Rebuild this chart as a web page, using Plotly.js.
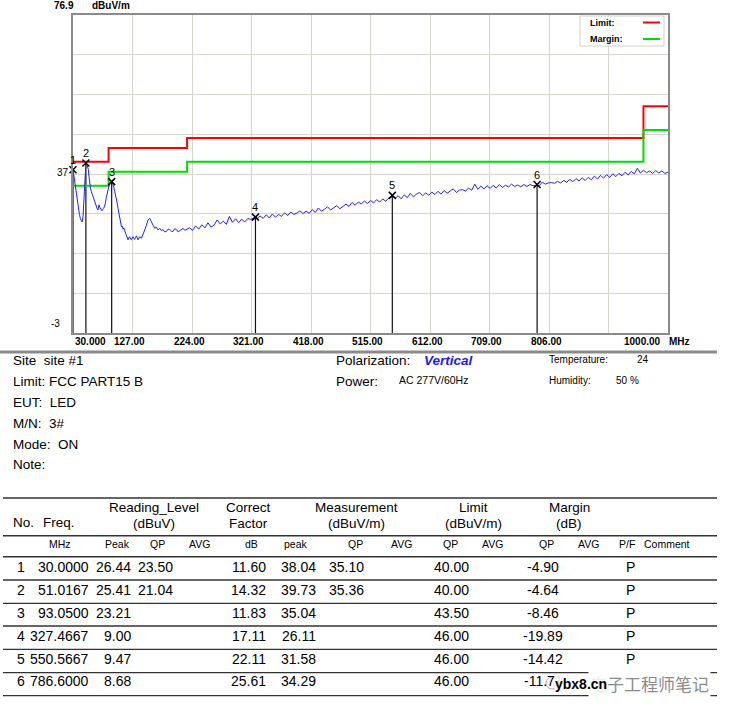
<!DOCTYPE html>
<html><head><meta charset="utf-8">
<script src="https://cdn.plot.ly/plotly-3.0.1.min.js"></script>
<style>html,body{margin:0;padding:0;background:#fff}#chart{width:732px;height:715px}</style>
</head><body><div id="chart"></div>
<script>
// ---- spectrum data ----
const freqMHz = [30, 31.5, 32.8, 34, 35.5, 37.5, 39.3, 40.5, 42, 43.5,
 44.7, 45.5, 46.3, 47.5, 48.6, 49.7, 50.7, 51.0167, 52.5, 54,
 55, 56, 57.2, 58.5, 60, 61.3, 62.6, 64, 65.4, 66.8,
 68.2, 69.5, 70.8, 72.4, 73.5, 74.7, 76, 77.3, 78.6, 80,
 81.4, 82.8, 84.2, 85.5, 87, 88.7, 90, 91.5, 93.05, 94.2,
 95.3, 96.6, 98, 99.4, 100.8, 102, 103.4, 104.8, 106.2, 107.6,
 109, 110.2, 111.5, 112.9, 114.3, 115.6, 117, 118.4, 119.7, 121,
 122.5, 123.9, 125.3, 126.6, 127.9, 129.2, 130.6, 132, 133.4, 136,
 138.8, 141.5, 144.2, 147, 149.7, 152.3, 155, 157.9, 160.5, 163.2,
 166, 168.6, 171.4, 174.2, 176.8, 179.5, 182.3, 185, 187.7, 190.4,
 193, 195.8, 198.6, 201.3, 204, 206.7, 209.4, 212.2, 215,
 220, 225, 230, 235, 240, 245, 250, 255, 260, 265,
 270, 275, 280, 285, 290, 295, 300, 305, 310, 315,
 320, 325, 327.4667, 330, 335, 340, 345, 350, 355, 360, 365,
 370, 375, 380, 385, 390, 395, 400, 405, 410, 415,
 420, 425, 430, 435, 440, 445, 450, 455, 460, 465,
 470, 475, 480, 485, 490, 495, 500, 505, 510, 515,
 520, 525, 530, 535, 540, 545, 550, 550.5667, 555, 560, 565,
 570, 575, 580, 585, 590, 595, 600, 605, 610, 615,
 620, 625, 630, 635, 640, 645, 650, 655, 660, 665,
 670, 675, 680, 685, 690, 695, 700, 705, 710, 715,
 720, 725, 730, 735, 740, 745, 750, 755, 760, 765,
 770, 775, 780, 785, 786.6, 790, 795, 800, 805, 810, 815,
 820, 825, 830, 835, 840, 845, 850, 855, 860, 865,
 870, 875, 880, 885, 890, 895, 900, 905, 910, 915,
 920, 925, 930, 935, 940, 945, 950, 955, 960, 965,
 970, 975, 980, 985, 990, 995, 1000];
const levelDb = [38.04, 36.5, 34.6, 33, 31.2, 29.5, 27.5, 26.8, 25.8, 25.3,
 24.9, 25.4, 26.2, 29.5, 32.9, 36.8, 39.2, 39.73, 39.3, 38.6,
 38.1, 36.4, 34.6, 33.4, 32.5, 31.9, 31.3, 30.4, 30, 29.5,
 28.8, 28.2, 27.9, 29.2, 28.6, 28.3, 27.9, 27.7, 28.1, 28.3,
 28.9, 29.6, 31, 32.1, 33.2, 34.0, 34.3, 34.8, 35.04, 34.7,
 34.3, 33.6, 32.5, 31.6, 30.8, 29.7, 28.3, 27.1, 25.8, 24.6,
 23.7, 23.9, 23.1, 23.4, 22.5, 22.1, 21.6, 21.1, 20.4, 20.9,
 21.2, 20.6, 20.4, 20.9, 21.2, 20.7, 20.5, 21.0, 21.4, 20.4,
 21.2, 20.8, 22.1, 22.9, 24.1, 25.4, 25.8, 24.7, 24.1, 23.3,
 23.6, 22.9, 23.3, 22.7, 23.0, 22.4, 22.5, 23.1, 23.0, 22.6,
 22.5, 23.2, 23.0, 22.4, 22.7, 23.1, 23.3, 22.8, 23.0,
 23.4, 22.8, 23.9, 23.1, 24.2, 23.4, 24.7, 23.6, 24.1, 25.4,
 24.4, 25.1, 24.3, 26.3, 24.8, 25.7, 24.7, 25.6, 24.9, 25.8,
 25.5, 26.0, 26.11, 25.7, 26.4, 25.8, 26.7, 25.9, 26.9, 26.1, 26.8,
 26.3, 27.2, 26.5, 27.4, 26.8, 27.1, 27.7, 27.0, 27.6, 27.1,
 28.0, 27.3, 28.4, 27.6, 28.1, 28.7, 27.9, 28.5, 29.0, 28.2,
 28.9, 29.4, 28.8, 29.8, 29.1, 29.9, 29.4, 30.2, 29.5, 30.3,
 29.7, 30.5, 29.9, 30.7, 30.1, 31.0, 31.2, 31.58, 30.8, 31.5, 30.7,
 31.7, 31.0, 32.1, 31.2, 31.9, 32.3, 31.5, 32.2, 31.6, 32.4,
 31.8, 32.6, 31.9, 32.8, 32.1, 32.7, 33.2, 32.3, 32.9, 33.0,
 32.7, 33.4, 32.9, 34.4, 33.1, 33.9, 33.2, 34.0, 33.3, 34.1,
 33.4, 34.3, 33.6, 34.1, 33.7, 34.4, 33.8, 34.2, 33.7, 34.3,
 33.8, 34.3, 34.0, 34.1, 34.29, 34.0, 34.9, 34.4, 34.7, 34.8, 34.6,
 35.1, 34.7, 35.3, 34.9, 35.6, 35.0, 35.8, 35.2, 36.0, 35.3,
 36.1, 35.5, 36.4, 35.7, 36.6, 35.9, 36.8, 36.1, 37.0, 36.3,
 37.1, 36.5, 37.4, 36.7, 37.6, 37.0, 38.4, 37.2, 37.9, 37.3,
 37.7, 37.1, 37.8, 37.2, 37.7, 37.1, 37.4];

// limit and margin lines (step)
const limitFreq   = [30, 88, 216, 960, 1000];
const limitLevel  = [40, 43.5, 46, 54, 54];
const marginLevel = [34, 37.5, 40, 48, 48];

// markers / table
const markerNo   = ['1', '2', '3', '4', '5', '6'];
const markerFreq = [30.0000, 51.0167, 93.0500, 327.4667, 550.5667, 786.6000];
const readPeak   = ['26.44', '25.41', '23.21', '9.00', '9.47', '8.68'];
const readQP     = ['23.50', '21.04', '', '', '', ''];
const corrFactor = ['11.60', '14.32', '11.83', '17.11', '22.11', '25.61'];
const measPeak   = [38.04, 39.73, 35.04, 26.11, 31.58, 34.29];
const measQP     = ['35.10', '35.36', '', '', '', ''];
const limitQP    = ['40.00', '40.00', '43.50', '46.00', '46.00', '46.00'];
const marginQP   = ['-4.90', '-4.64', '-8.46', '-19.89', '-14.42', '-11.71'];
const passFail   = ['P', 'P', 'P', 'P', 'P', 'P'];

// axes
const xGrid = [30, 127, 224, 321, 418, 515, 612, 709, 806, 903, 1000];
const xTickVals = [30, 127, 224, 321, 418, 515, 612, 709, 806, 1000];
const xTickText = ['30.000', '127.00', '224.00', '321.00', '418.00', '515.00', '612.00', '709.00', '806.00', '1000.00'];
const yGrid = [-3, 6.9875, 16.975, 26.9625, 36.95, 46.9375, 56.925, 66.9125, 76.9];
const yMin = -3, yMax = 76.9;

// ---- layout helpers (pixel -> paper) ----
const L = 73, R = 668, T = 15, B = 333;
const px = x => (x - L) / (R - L);
const py = y => (B - y) / (B - T);
const FONT = 'Liberation Sans, Arial, sans-serif';
const ann = [];
function txt(x, y, text, size, o) {
  o = o || {};
  ann.push({xref: 'paper', yref: 'paper', x: px(x), y: py(y), text: text, showarrow: false,
    xanchor: o.anchor || 'left', yanchor: 'middle',
    font: {family: o.family || FONT, size: size, color: o.color || '#000', weight: o.weight || 'normal', style: o.style || 'normal'},
    bgcolor: o.bg, borderpad: o.pad || 0});
}
const shapes = [];
function hline(x0, x1, y, color, w) {
  shapes.push({type: 'line', xref: 'paper', yref: 'paper', x0: px(x0), x1: px(x1), y0: py(y), y1: py(y),
    line: {color: color, width: w}, layer: 'above'});
}

// axis texts
txt(75, 6, '76.9', 10, {anchor: 'right', weight: 'bold'});
txt(91, 6, 'dBuV/m', 10, {weight: 'bold'});
txt(70, 172, '37', 10, {anchor: 'right'});
txt(61, 323, '-3', 10, {anchor: 'right'});
xTickVals.forEach((v, i) => {
  let sh = -3;
  if (i === 0) sh = 17;
  if (i === xTickVals.length - 1) sh = -26;
  ann.push({xref: 'x', yref: 'paper', x: v, y: py(341), xshift: sh, text: xTickText[i], showarrow: false,
    xanchor: 'center', yanchor: 'middle', font: {family: FONT, size: 10, color: '#000', weight: 'bold'}});
});
txt(668, 341, 'MHz', 10, {weight: 'bold'});

// marker numbers above the markers
markerNo.forEach((n, i) => {
  ann.push({xref: 'x', yref: 'y', x: markerFreq[i], y: measPeak[i], yshift: 10, text: n, showarrow: false,
    xanchor: 'center', yanchor: 'middle', font: {family: FONT, size: 11, color: '#000'}});
});

// legend box
shapes.push({type: 'rect', xref: 'paper', yref: 'paper', x0: px(580), x1: px(664), y0: py(16), y1: py(46),
  fillcolor: '#fff', line: {color: '#d0d0d0', width: 1}, layer: 'above'});
txt(589, 22.5, 'Limit:', 9, {weight: 'bold'});
txt(589, 39, 'Margin:', 9, {weight: 'bold'});
hline(643, 660, 22.5, '#ff0000', 2);
hline(643, 660, 39, '#00dd00', 2);

// separator under the chart
hline(0, 717, 352, '#8a8a8a', 3);

// info block
const infoLeft = ['Site  site #1', 'Limit: FCC PART15 B', 'EUT:  LED', 'M/N:  3#', 'Mode:  ON', 'Note:'];
infoLeft.forEach((s, i) => txt(12, 360 + i * 21, s, 13.5));
txt(335, 360, 'Polarization:', 13.5);
txt(423, 360, 'Vertical', 13.5, {color: '#1a1aee', weight: 'bold', style: 'italic'});
txt(335, 381, 'Power:', 13.5);
txt(398, 380, 'AC 277V/60Hz', 10.5);
txt(548, 359, 'Temperature:', 10);
txt(636, 359, '24', 10);
txt(548, 380, 'Humidity:', 10);
txt(615, 380, '50 %', 10);

// table lines
[498, 535.7, 556.7, 580, 603.3, 626, 649.3, 672.7, 695.7].forEach((y, i) =>
  hline(3, 717, y, '#333', i < 3 ? 1.6 : 1.3));
// table headers
txt(12, 522, 'No.', 13.5);
txt(42, 522, 'Freq.', 13.5);
const hdr = [[154, 'Reading_Level', '(dBuV)'], [248, 'Correct', 'Factor'], [356, 'Measurement', '(dBuV/m)'],
             [473, 'Limit', '(dBuV/m)'], [569, 'Margin', '(dB)']];
hdr.forEach(h => { txt(h[0], 507, h[1], 13.5, {anchor: 'center'}); txt(h[0], 523, h[2], 13.5, {anchor: 'center'}); });
const sub = [[60, 'MHz'], [117, 'Peak'], [157, 'QP'], [199, 'AVG'], [251, 'dB'], [296, 'peak'], [355, 'QP'],
             [401, 'AVG'], [450, 'QP'], [492, 'AVG'], [546, 'QP'], [588, 'AVG'], [627, 'P/F']];
sub.forEach(s => txt(s[0], 544, s[1], 10.5, {anchor: 'center'}));
txt(643, 544, 'Comment', 10.5);
// table rows
markerNo.forEach((n, i) => {
  const y = 566.7 + i * 22.95;
  txt(21, y, n, 14, {anchor: 'center'});
  txt(90, y, markerFreq[i].toFixed(4), 14, {anchor: 'right'});
  txt(132, y, readPeak[i], 14, {anchor: 'right'});
  if (readQP[i]) txt(174, y, readQP[i], 14, {anchor: 'right'});
  txt(267, y, corrFactor[i], 14, {anchor: 'right'});
  txt(317, y, measPeak[i].toFixed(2), 14, {anchor: 'right'});
  if (measQP[i]) txt(365, y, measQP[i], 14, {anchor: 'right'});
  txt(451, y, limitQP[i], 14, {anchor: 'center'});
  txt(543, y, marginQP[i], 14, {anchor: 'center'});
  txt(630, y, passFail[i], 14, {anchor: 'center'});
});

// watermark (covers the end of the last row, as in the reference)
shapes.push({type: 'circle', xref: 'paper', yref: 'paper', x0: px(546), x1: px(558), y0: py(677), y1: py(689),
  line: {color: '#aaa', width: 1}, fillcolor: 'rgba(255,255,255,0)', layer: 'above'});
txt(588, 683, '电子工程师笔记', 17, {family: 'Noto Sans CJK SC', color: '#8c8c8c', bg: '#ffffff', pad: 1});
txt(554, 684, 'ybx8.cn', 14, {weight: 'bold', bg: 'rgba(255,255,255,0.85)'});

// ---- traces ----
const stemX = [], stemY = [];
markerFreq.forEach((f, i) => { stemX.push(f, f, null); stemY.push(yMin, measPeak[i], null); });

const traces = [
  {x: stemX, y: stemY, mode: 'lines', line: {color: '#111', width: 1.2}, hoverinfo: 'skip', cliponaxis: false},
  {x: limitFreq, y: limitLevel, mode: 'lines', line: {color: '#ff0000', width: 2, shape: 'hv'}},
  {x: limitFreq, y: marginLevel, mode: 'lines', line: {color: '#00dd00', width: 2, shape: 'hv'}},
  {x: freqMHz, y: levelDb, mode: 'lines', line: {color: '#2222ff', width: 1}},
  {x: markerFreq, y: measPeak, mode: 'markers', cliponaxis: false,
   marker: {symbol: 'x-thin', size: 7, color: '#000', line: {color: '#000', width: 1.5}}}
];

const layout = {
  width: 732, height: 715, showlegend: false,
  paper_bgcolor: '#fff', plot_bgcolor: '#fff',
  margin: {l: L, r: 732 - R, t: T, b: 715 - B, pad: 0},
  xaxis: {range: [30, 1000], tickvals: xGrid, showticklabels: false, ticks: '', showgrid: true,
    gridcolor: '#d8d5ce', gridwidth: 1, zeroline: false, showline: true, mirror: true,
    linecolor: '#8a8a8a', linewidth: 2},
  yaxis: {range: [yMin, yMax], tickvals: yGrid, showticklabels: false, ticks: '', showgrid: true,
    gridcolor: '#d8d5ce', gridwidth: 1, zeroline: false, showline: true, mirror: true,
    linecolor: '#8a8a8a', linewidth: 2},
  annotations: ann, shapes: shapes
};
Plotly.newPlot('chart', traces, layout, {staticPlot: true, displayModeBar: false});
</script></body></html>
